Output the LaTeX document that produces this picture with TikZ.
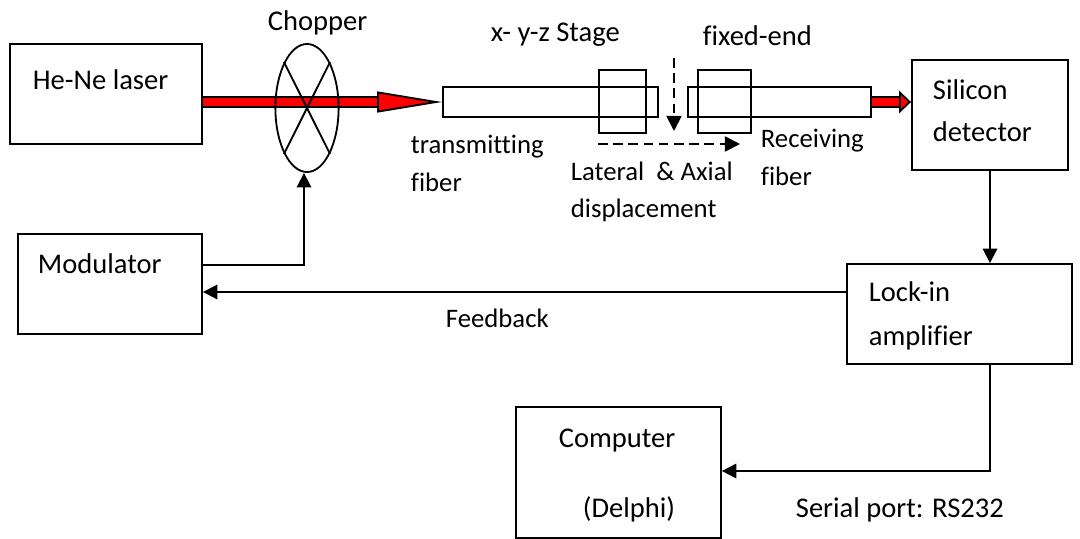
\documentclass[tikz,border=0pt]{standalone}
\usepackage{fontspec}
\setmainfont{Carlito}[Ligatures=NoCommon]
\usetikzlibrary{arrows.meta, positioning, shapes.geometric}
\tikzset{
    blockbox/.style={draw, rectangle, inner sep=0pt},
    fiberbox/.style={draw, rectangle, inner sep=0pt, minimum height=0.76cm},
    stagebox/.style={draw, rectangle, inner sep=0pt, minimum height=1.58cm},
    lbl/.style={anchor=base west, inner sep=0pt, font=\fontsize{20.3}{24}\selectfont},
    smalllbl/.style={lbl, font=\fontsize{19}{23}\selectfont},
    wire/.style={-{Triangle[length=0.36cm,width=0.36cm]}},
    dashwire/.style={dash pattern=on 0.24cm off 0.14cm, -{Triangle[length=0.38cm,width=0.38cm]}},
    beamback/.style={line width=0.29cm},
    beamfront/.style={line width=0.22cm, red},
}
\begin{document}
\begin{tikzpicture}[x=0.025cm, y=-0.025cm, line width=1.3pt]
    \useasboundingbox (0,0) rectangle (1080,539);

    % Blocks
    \node[blockbox, minimum width=4.8cm, minimum height=2.5cm] (laser) at (106,94) {};
    \node[blockbox, minimum width=4.6cm, minimum height=2.5cm] (modulator) at (110,284) {};
    \node[blockbox, minimum width=3.9cm, minimum height=2.75cm] (detector) at (990,115) {};
    \node[blockbox, minimum width=5.62cm, minimum height=2.5cm] (lockin) at (959.5,314) {};
    \node[blockbox, minimum width=5.12cm, minimum height=3.28cm] (computer) at (618.5,472.5) {};

    % Fibers and stages
    \node[fiberbox, minimum width=5.38cm] (txfiber) at (550.5,102) {};
    \node[fiberbox, minimum width=4.58cm] (rxfiber) at (779.5,102) {};
    \node[stagebox, minimum width=1.18cm] (stageL) at (622.5,101.5) {};
    \node[stagebox, minimum width=1.32cm] (stageR) at (724.5,101.5) {};

    % Beam
    \draw[beamback, shorten >=1.6cm] (laser.east |- txfiber) -- (txfiber.west);
    \draw[beamfront, -{Triangle[length=1.62cm,width=0.52cm,line width=1.3pt,fill=red,color=black]}] (laser.east |- txfiber) -- (txfiber.west);
    \draw[beamback, shorten >=0.25cm] (rxfiber.east) -- (detector.west |- rxfiber);
    \draw[beamfront, -{Triangle[length=0.3cm,width=0.56cm,line width=1.3pt,fill=red,color=black]}] (rxfiber.east) -- (detector.west |- rxfiber);

    % Chopper
    \node[draw, ellipse, inner sep=0pt, minimum width=1.58cm, minimum height=3.2cm] (chopper) at (307,108) {};
    \draw (chopper.north west) -- (chopper.south east);
    \draw (chopper.north east) -- (chopper.south west);

    % Signal lines
    \coordinate (modout) at (304,265);
    \coordinate (feedback) at (0,292);
    \coordinate (compin) at (0,471);
    \coordinate (stagetop) at (674,58);
    \coordinate (stagetip) at (674,131);
    \coordinate (latfrom) at (598,144);
    \coordinate (latto) at (740,144);
    \draw[wire] (modulator.east |- modout) -| (chopper.south -| modout);
    \draw[wire] (detector.south) -- (detector.south |- lockin.north);
    \draw[wire] (lockin.west |- feedback) -- (modulator.east |- feedback);
    \draw[wire] (lockin.south -| detector.south) |- (computer.east |- compin);
    \draw[dashwire] (stagetop) -- (stagetip);
    \draw[dashwire] (latfrom) -- (latto);

    % Labels
    \node[lbl] (laserlbl) at (32,89) {He-Ne laser};
    \node[lbl] (chopperlbl) at (267,30) {Chopper};
    \node[lbl] (stagelbl) at (490,41) {x- y-z~Stage};
    \node[lbl] (fixedlbl) at (702,46) {fixed-end};
    \node[smalllbl] (txlbl) at (410,153) {transmitting};
    \node[smalllbl] (txlblb) at (410,191) {fiber};
    \node[smalllbl] (latlbl) at (570,180) {Lateral~ \& Axial};
    \node[smalllbl] (displbl) at (570,217) {displacement};
    \node[smalllbl] (rxlbl) at (760,147) {Receiving};
    \node[smalllbl] (rxlblb) at (760,185) {fiber};
    \node[lbl] (silicon) at (932,99) {Silicon};
    \node[lbl] (detlbl) at (932,141) {detector};
    \node[lbl] (modlbl) at (37,273) {Modulator};
    \node[lbl] (locklbl) at (868,301) {Lock-in};
    \node[lbl] (amplbl) at (868,345) {amplifier};
    \node[smalllbl] (feedlbl) at (445,327) {Feedback};
    \node[lbl] (complbl) at (558,447) {Computer};
    \node[lbl] (delphi) at (582,517) {(Delphi)};
    \node[lbl] (seriallbl) at (795,517) {Serial port: RS232};
\end{tikzpicture}
\end{document}
